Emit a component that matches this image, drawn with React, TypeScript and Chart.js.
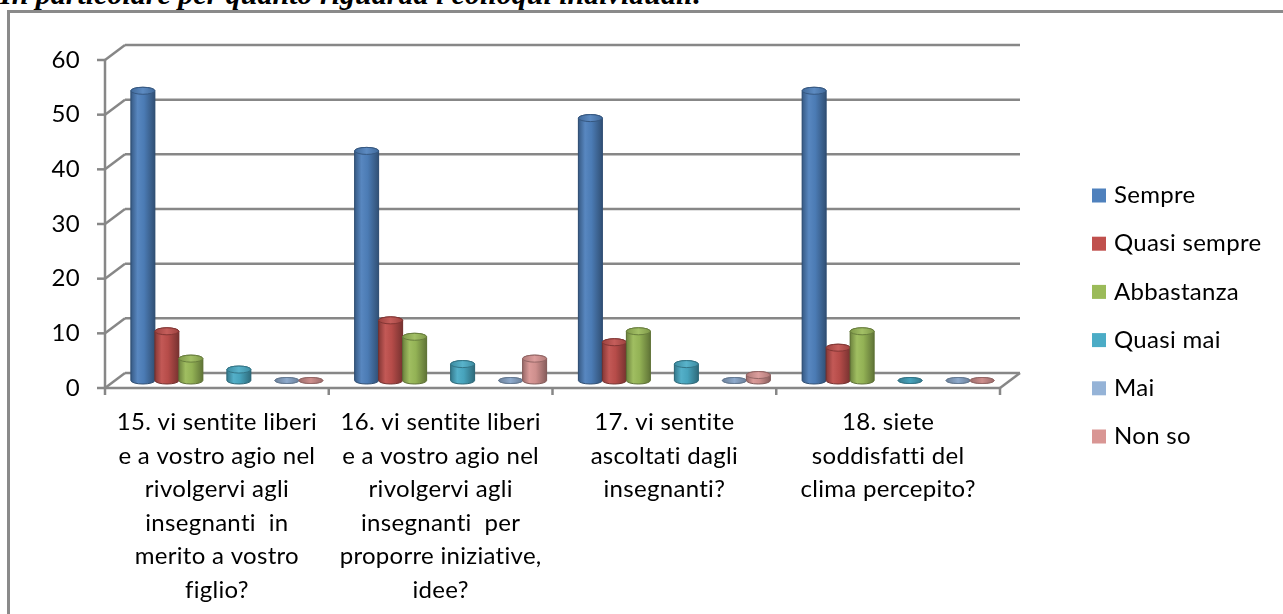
import React, { useEffect, useRef } from 'react';
import { Chart, registerables } from 'chart.js';

Chart.register(...registerables);

// ---------- data ----------
const categories: string[][] = [
  ['15. vi sentite liberi', 'e a vostro agio nel', 'rivolgervi agli', 'insegnanti  in', 'merito a vostro', 'figlio?'],
  ['16. vi sentite liberi', 'e a vostro agio nel', 'rivolgervi agli', 'insegnanti  per', 'proporre iniziative,', 'idee?'],
  ['17. vi sentite', 'ascoltati dagli', 'insegnanti?'],
  ['18. siete', 'soddisfatti del', 'clima percepito?'],
];

const seriesNames = ['Sempre', 'Quasi sempre', 'Abbastanza', '', 'Quasi mai', '', 'Mai', 'Non so'];
const sempre = [53, 42, 48, 53];
const quasiSempre = [9, 11, 7, 6];
const abbastanza = [4, 8, 9, 9];
const emptyA: (number | null)[] = [null, null, null, null];
const quasiMai = [2, 3, 3, 0];
const emptyB: (number | null)[] = [null, null, null, null];
const mai = [0, 0, 0, 0];
const nonSo = [0, 4, 1, 0];

const seriesValues = [sempre, quasiSempre, abbastanza, emptyA, quasiMai, emptyB, mai, nonSo];
const seriesColors = ['#4F81BD', '#C0504D', '#9BBB59', '#8064A2', '#4BACC6', '#F79646', '#95B3D7', '#D99694'];

const yMin = 0;
const yMax = 60;
const yStep = 10;

const heading = 'In particolare per quanto riguarda i colloqui individuali:';

// ---------- helpers ----------
const FONT = 'Lato, "Open Sans", sans-serif';
const OFF_X = 10;
const OFF_Y = 7.5;
const GRID = '#878787';

function hexToRgb(hex: string) {
  return [parseInt(hex.slice(1, 3), 16), parseInt(hex.slice(3, 5), 16), parseInt(hex.slice(5, 7), 16)];
}
function shade(hex: string, f: number) {
  const [r, g, b] = hexToRgb(hex);
  let rr, gg, bb;
  if (f <= 1) {
    rr = r * f; gg = g * f; bb = b * f;
  } else {
    const t = f - 1;
    rr = r + (255 - r) * t; gg = g + (255 - g) * t; bb = b + (255 - b) * t;
  }
  return `rgb(${Math.round(rr)},${Math.round(gg)},${Math.round(bb)})`;
}

function drawCylinder(ctx: CanvasRenderingContext2D, x: number, top: number, base: number, w: number, color: string) {
  const left = x - w / 2;
  const right = x + w / 2;
  const rx = w / 2;
  const flat = Math.abs(base - top) < 0.5;
  const ry = flat ? 3 : 3.5;
  const g = ctx.createLinearGradient(left, 0, right, 0);
  g.addColorStop(0, shade(color, 0.7));
  g.addColorStop(0.28, shade(color, 1.05));
  g.addColorStop(0.55, shade(color, 0.95));
  g.addColorStop(1, shade(color, 0.62));
  ctx.beginPath();
  ctx.moveTo(left, top);
  ctx.lineTo(left, base);
  ctx.ellipse(x, base, rx, ry, 0, Math.PI, 0, true);
  ctx.lineTo(right, top);
  ctx.ellipse(x, top, rx, ry, 0, 0, Math.PI, true);
  ctx.closePath();
  ctx.fillStyle = g;
  ctx.fill();
  ctx.lineWidth = 1;
  ctx.strokeStyle = shade(color, 0.6);
  ctx.stroke();
  const tg = ctx.createLinearGradient(left, 0, right, 0);
  const k = flat ? 0.88 : 1;
  tg.addColorStop(0, shade(color, 0.82 * k));
  tg.addColorStop(0.5, flat ? shade(color, 0.95) : shade(color, 1.08));
  tg.addColorStop(1, shade(color, 0.82 * k));
  ctx.beginPath();
  ctx.ellipse(x, top, rx, ry, 0, 0, Math.PI * 2);
  ctx.fillStyle = tg;
  ctx.fill();
  ctx.strokeStyle = shade(color, 0.68);
  ctx.stroke();
}

const frame3d = {
  id: 'frame3d',
  beforeInit(chart: any) {
    const c: any = chart.ctx;
    try { c.textRendering = 'optimizeSpeed'; } catch (e) {}
    try { c.letterSpacing = '0.3px'; } catch (e) {}
  },
  beforeUpdate(chart: any) {
    const c: any = chart.ctx;
    try { c.textRendering = 'optimizeSpeed'; } catch (e) {}
    try { c.letterSpacing = '0.3px'; } catch (e) {}
  },
  beforeDraw(chart: any) {
    const c: any = chart.ctx;
    try { c.textRendering = 'optimizeSpeed'; } catch (e) {}
    try { c.letterSpacing = '0.3px'; } catch (e) {}
  },
  beforeDatasetsDraw(chart: any) {
    const { ctx, chartArea: a, scales } = chart;
    const x = scales.x;
    const y = scales.y;
    const line = (x1: number, y1: number, x2: number, y2: number) => {
      ctx.beginPath();
      ctx.moveTo(x1, y1);
      ctx.lineTo(x2, y2);
      ctx.stroke();
    };
    ctx.save();
    ctx.strokeStyle = GRID;
    ctx.lineWidth = 2.5;
    const fl = a.left - OFF_X;
    const fr = a.right - OFF_X;
    const bl = a.left + OFF_X;
    const br = a.right + OFF_X;
    y.ticks.forEach((t: any) => {
      const ym = y.getPixelForValue(t.value);
      line(fl, ym + OFF_Y, bl, ym - OFF_Y);
      line(bl, ym - OFF_Y, br, ym - OFF_Y);
      line(fl - 8, ym + OFF_Y, fl, ym + OFF_Y);
    });
    const y0 = y.getPixelForValue(yMin) + OFF_Y;
    const yTop = y.getPixelForValue(yMax) + OFF_Y;
    line(fl, yTop, fl, y0);
    line(fl, y0, fr, y0);
    line(fr, y0, br, y0 - 2 * OFF_Y);
    const half = (x.getPixelForValue(1) - x.getPixelForValue(0)) / 2;
    for (let i = 0; i <= categories.length; i++) {
      const px = x.getPixelForValue(0) - half + i * 2 * half - OFF_X;
      line(px, y0, px, y0 + 7);
    }
    ctx.restore();
  },
  afterDatasetsDraw(chart: any) {
    const { ctx } = chart;
    ctx.save();
    chart.data.datasets.forEach((ds: any, di: number) => {
      const meta = chart.getDatasetMeta(di);
      meta.data.forEach((el: any, i: number) => {
        if (ds.data[i] === null || ds.data[i] === undefined) return;
        const p = el.getProps(['x', 'y', 'base', 'width'], true);
        drawCylinder(ctx, p.x, p.y, p.base, p.width, seriesColors[di]);
      });
    });
    ctx.restore();
  },
  afterDraw(chart: any) {
    const { ctx } = chart;
    ctx.save();
    ctx.font = `24px ${FONT}`;
    ctx.textBaseline = 'middle';
    ctx.textAlign = 'left';
    let row = 0;
    chart.data.datasets.forEach((ds: any, di: number) => {
      if (!ds.label) return;
      const cy = 195.5 + row * 48.2;
      ctx.fillStyle = seriesColors[di];
      ctx.fillRect(1092, cy - 7, 14, 14);
      ctx.fillStyle = '#000';
      ctx.fillText(ds.label, 1114, cy);
      row++;
    });
    ctx.restore();
  },
};

export default function App() {
  const ref = useRef<HTMLCanvasElement>(null);
  useEffect(() => {
    const canvas = ref.current;
    if (!canvas) return;
    const chart = new Chart(canvas, {
      type: 'bar',
      data: {
        labels: categories,
        datasets: seriesNames.map((name, i) => ({
          label: name,
          data: seriesValues[i],
          backgroundColor: seriesColors[i],
          borderWidth: 0,
          barPercentage: 1,
          categoryPercentage: 0.858,
        })),
      },
      options: {
        responsive: false,
        animation: false,
        devicePixelRatio: 1,
        layout: { padding: { left: 0, top: 52.5, right: 273, bottom: 0 } },
        plugins: {
          legend: { display: false },
          tooltip: { enabled: false },
          title: { display: false },
        },
        scales: {
          x: {
            grid: { display: false, drawTicks: false },
            border: { display: false },
            ticks: {
              autoSkip: false,
              maxRotation: 0,
              minRotation: 0,
              padding: 25,
              labelOffset: -OFF_X,
              color: '#000',
              font: { family: FONT, size: 24, lineHeight: 1.4 },
            },
            afterFit: (s: any) => { s.height = 614 - 380.5; },
          },
          y: {
            min: yMin,
            max: yMax,
            grid: { display: false, drawTicks: false },
            border: { display: false },
            ticks: {
              stepSize: yStep,
              padding: 35,
              labelOffset: OFF_Y,
              color: '#000',
              font: { family: FONT, size: 24 },
            },
            afterFit: (s: any) => { s.width = 115; },
          },
        },
      },
      plugins: [frame3d],
    });
    const fonts: any = (document as any).fonts;
    if (fonts && fonts.load) {
      fonts.load(`24px Lato`).then(() => chart.update()).catch(() => {});
    }
    return () => chart.destroy();
  }, []);

  return (
    <div style={{ position: 'fixed', left: 0, top: 0, width: 1283, height: 614, overflow: 'hidden', background: '#fff' }}>
      <div
        style={{
          position: 'absolute',
          left: 0,
          top: -21,
          fontFamily: '"Liberation Serif", serif',
          fontWeight: 'bold',
          fontStyle: 'italic',
          fontSize: 30,
          lineHeight: '30px',
          whiteSpace: 'nowrap',
          color: '#000',
        }}
      >
        {heading}
      </div>
      <div
        style={{
          position: 'absolute',
          left: 7,
          top: 10,
          width: 1400,
          height: 700,
          borderLeft: '3px solid #8a8a8a',
          borderTop: '3px solid #8a8a8a',
          boxSizing: 'border-box',
        }}
      />
      <canvas ref={ref} width={1283} height={614} style={{ position: 'absolute', left: 0, top: 0 }} />
    </div>
  );
}
